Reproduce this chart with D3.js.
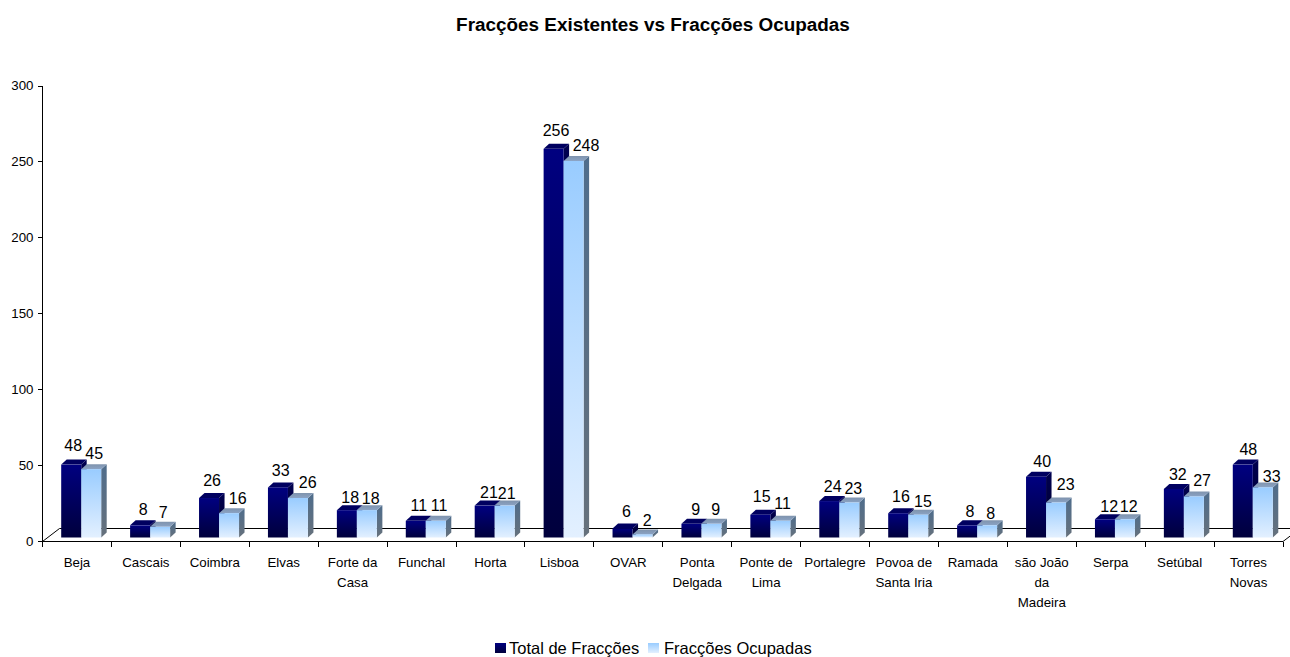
<!DOCTYPE html>
<html><head><meta charset="utf-8">
<script src="https://cdn.jsdelivr.net/npm/d3@7/dist/d3.min.js"></script>
<style>
html,body{margin:0;padding:0;background:#fff}
svg{display:block}
text{font-family:"Liberation Sans",Arial,sans-serif;fill:#000}
</style></head><body>
<svg id="c" width="1290" height="657"></svg>
<script>
const categories=[["Beja"],["Cascais"],["Coimbra"],["Elvas"],["Forte da","Casa"],["Funchal"],["Horta"],["Lisboa"],["OVAR"],["Ponta","Delgada"],["Ponte de","Lima"],["Portalegre"],["Povoa de","Santa Iria"],["Ramada"],["são João","da","Madeira"],["Serpa"],["Setúbal"],["Torres","Novas"]];
const totalFraccoes=[48,8,26,33,18,11,21,256,6,9,15,24,16,8,40,12,32,48];
const fraccoesOcupadas=[45,7,16,26,18,11,21,248,2,9,11,23,15,8,23,12,27,33];
const yTicks=[0,50,100,150,200,250,300];
const title="Fracções Existentes vs Fracções Ocupadas";
const seriesNames=["Total de Fracções","Fracções Ocupadas"];
// label nudges (px), as placed individually in the original
const nudgeTotalX=[2,3,3,2.7,3.4,3,4.3,2.4,4,4.2,1.3,3.4,2.8,2.8,6.2,4.3,4,5.5];
const nudgeTotalY=[13.6,10.4,12.3,11.4,7.5,9.8,7.9,12.9,11.1,8.8,12.7,9.1,11.2,8.1,9.5,7.6,8.9,9.6];
const nudgeOcupX=[3,3,8.7,9.7,3.8,3.2,2,12.4,4.7,4.2,2.3,4,4.7,3.5,9.6,3.7,8.2,8.9];
const nudgeOcupY=[10.2,8.9,9.2,9.7,5.9,9.8,6.3,10.4,8.8,8.8,12.1,8.6,8,6.4,12.6,7,10.5,5.7];

const svg=d3.select("#c");
const defs=svg.append("defs");
function grad(id,top,bottom){
  const g=defs.append("linearGradient").attr("id",id).attr("x1",0).attr("y1",0).attr("x2",0).attr("y2",1);
  g.append("stop").attr("offset",0).attr("stop-color",top);
  g.append("stop").attr("offset",1).attr("stop-color",bottom);
}
grad("dFront","#000080","#00003c");
grad("dSide","#000050","#000028");
grad("lFront","#99ccff","#e3f0ff");
grad("lSide","#4f6d8c","#66717c");
grad("lTop","#7f93ad","#8ba3c4");
grad("legD","#000080","#00003c");
grad("legL","#99ccff","#e3f0ff");

const x=d3.scaleLinear().domain([0,categories.length]).range([42.5,1283]);
const y=d3.scaleLinear().domain([0,300]).range([541.5,86]);
const depthX=17,depthY=13;
const barLift=4, barInset=18.7, barW=20, bx=5.5, by=5;

const g=svg.append("g");
g.append("path").attr("d",`M${x(0)},${y(0)}L${x(0)+depthX},${y(0)-depthY}H1290`).attr("fill","none").attr("stroke","#000");
g.append("path").attr("d",`M${x(categories.length)},${y(0)}l${depthX},${-depthY}`).attr("fill","none").attr("stroke","#000");

const series=[
 {vals:totalFraccoes,off:0,front:"url(#dFront)",side:"url(#dSide)",top:"#000060",nx:nudgeTotalX,ny:nudgeTotalY},
 {vals:fraccoesOcupadas,off:barW,front:"url(#lFront)",side:"url(#lSide)",top:"url(#lTop)",nx:nudgeOcupX,ny:nudgeOcupY}
];
series.forEach(s=>{
  const gs=svg.append("g");
  s.vals.forEach((v,i)=>{
    const x0=x(i)+barInset+s.off, x1=x0+barW;
    const yb=y(0)-barLift, yt=y(v)-barLift;
    gs.append("polygon").attr("points",[[x1,yt],[x1+bx,yt-by],[x1+bx,yb-by],[x1,yb]].join(" ")).attr("fill",s.side);
    gs.append("polygon").attr("points",[[x0,yt],[x0+bx,yt-by],[x1+bx,yt-by],[x1,yt]].join(" ")).attr("fill",s.top);
    gs.append("rect").attr("x",x0).attr("y",yt).attr("width",barW).attr("height",yb-yt).attr("fill",s.front);
  });
});
series.forEach(s=>{
  svg.append("g").selectAll("text").data(s.vals).join("text")
    .attr("x",(d,i)=>x(i)+barInset+s.off+barW/2+s.nx[i])
    .attr("y",(d,i)=>y(d)-barLift-s.ny[i])
    .attr("text-anchor","middle").attr("font-size",16).text(d=>d);
});

const ay=svg.append("g").attr("transform","translate(42.5,0)").call(d3.axisLeft(y).offset(0).tickValues(yTicks).tickSize(5).tickSizeOuter(0).tickPadding(4));
const ax=svg.append("g").attr("transform",`translate(0,${y(0)})`).call(d3.axisBottom(x).offset(0).tickValues(d3.range(categories.length+1)).tickFormat("").tickSize(5).tickSizeOuter(0));
[ay,ax].forEach(a=>{a.selectAll("path,line").attr("stroke","#000").attr("shape-rendering","crispEdges");a.selectAll("text").attr("font-size",13.3).attr("font-family",'"Liberation Sans"').attr("fill","#000");});

const cl=svg.append("g");
categories.forEach((lines,i)=>{
  lines.forEach((t,j)=>{
    cl.append("text").attr("x",x(i+0.5)).attr("y",567+j*20).attr("text-anchor","middle").attr("font-size",13.3).text(t);
  });
});

svg.append("text").attr("x",653).attr("y",31).attr("text-anchor","middle").attr("font-size",18.9).attr("font-weight","bold").text(title);

svg.append("rect").attr("x",495).attr("y",643).attr("width",11).attr("height",10).attr("fill","url(#legD)");
svg.append("text").attr("x",509).attr("y",654).attr("font-size",16.5).text(seriesNames[0]);
svg.append("rect").attr("x",648).attr("y",643).attr("width",11).attr("height",10).attr("fill","url(#legL)");
svg.append("text").attr("x",664).attr("y",654).attr("font-size",16.5).text(seriesNames[1]);
</script>
</body></html>
